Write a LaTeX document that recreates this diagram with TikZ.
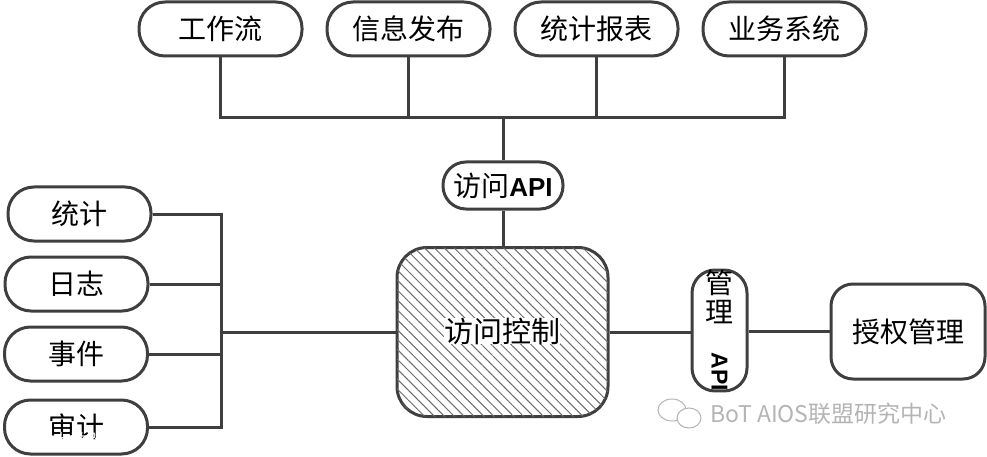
\documentclass[tikz,border=0pt]{standalone}
\usepackage{fontspec}
\setmainfont{Noto Sans CJK SC}
\newfontfamily\apifont{Liberation Sans}
\usetikzlibrary{patterns.meta, calc}
\definecolor{cline}{HTML}{3F3F3F}
\definecolor{chatch}{HTML}{6B6B6B}
\definecolor{cwater}{HTML}{B4B4B4}
\tikzset{
  every picture/.style={x=1pt, y=-1pt, line width=3pt},
  box/.style={draw=cline, fill=white, rounded corners=#1, align=center, inner sep=0pt, text=black,
    font=\fontsize{28}{30}\selectfont},
  box/.default=26pt,
  topbox/.style={box, minimum width=163pt, minimum height=54pt},
  sidebox/.style={box, minimum width=143pt, minimum height=54pt},
  apibox/.style={box=23pt},
  link/.style={draw=cline},
  watermark/.style={draw=none, inner sep=0pt},
}
\newcommand{\apitext}[1][26]{{\fontsize{#1}{#1}\apifont\bfseries API}}

\begin{document}
\begin{tikzpicture}
  \useasboundingbox (0,0) rectangle (987,457);
  % top row
  \node[topbox] (flow) at (220.5,29) {工作流};
  \node[topbox] (publish) at (408.5,29) {信息发布};
  \node[topbox] (report) at (596.5,29) {统计报表};
  \node[topbox] (business) at (784.5,29) {业务系统};
  % centre
  \node[box=30pt, minimum width=211pt, minimum height=169pt,
    postaction={pattern={Lines[angle=-45,distance=7pt,line width=1pt]}, pattern color=chatch}] (access) at (502.5,332) {};
  \node[apibox, minimum width=120pt, minimum height=47pt] (accessapi) at (503,185.5) {访问\apitext};
  \node[apibox, minimum width=55pt, minimum height=119pt] (manageapi) at (719.5,330.5)
    {\fontsize{28}{29}\selectfont 管\\[-1pt]理\\[0pt]\rotatebox{-90}{\apitext[23]}};
  \node[box=22pt, minimum width=154pt, minimum height=95pt] (auth) at (908,331.5) {授权管理};
  % left column
  \node[sidebox] (stats) at (79.5,214) {统计};
  \node[sidebox] (logs) at (76.5,284) {日志};
  \node[sidebox] (events) at (76,354) {事件};
  \node[sidebox] (audit) at (76,427) {审计};
  % junctions
  \coordinate (topbus) at (503,118);
  \coordinate (sidebus) at (221,332);
  \draw[link] (flow.south) |- (topbus);
  \draw[link] (publish.south) |- (topbus);
  \draw[link] (report.south) |- (topbus);
  \draw[link] (business.south) |- (topbus);
  \draw[link] (topbus) -- (accessapi.north);
  \draw[link] (accessapi.south) -- (accessapi.south |- access.north);
  \draw[link] (stats.east) -| (sidebus);
  \draw[link] (logs.east) -| (sidebus);
  \draw[link] (events.east) -| (sidebus);
  \draw[link] (audit.east) -| (sidebus);
  \draw[link] (sidebus) -- (access.west);
  \draw[link] (access.east) -- (access.east -| manageapi.west);
  \draw[link] (manageapi.east |- auth.west) -- (auth.west);
  % labels and watermarks on top
  \node[inner sep=0pt, fill=white, font=\fontsize{29}{30}\selectfont] (accesstext) at (502,331) {访问控制};
  \node[watermark, text=white, font=\fontsize{18}{20}\selectfont] (waterone) at (88,441) {大数跨境};
  \node[watermark, text=cwater, font=\fontsize{23}{25}\selectfont, anchor=west] (watertwo) at (709,414) {BoT AIOS联盟研究中心};
  \draw[white, line width=2pt] (26,435) ellipse (10pt and 9pt);
  \draw[white, line width=1.5pt] (37,429) ellipse (7pt and 5pt);
  \draw[cwater, line width=1pt, fill=white] (672,410) ellipse (14pt and 11pt);
  \draw[cwater, line width=1pt, fill=white] (689,418) ellipse (12pt and 10pt);
\end{tikzpicture}
\end{document}
